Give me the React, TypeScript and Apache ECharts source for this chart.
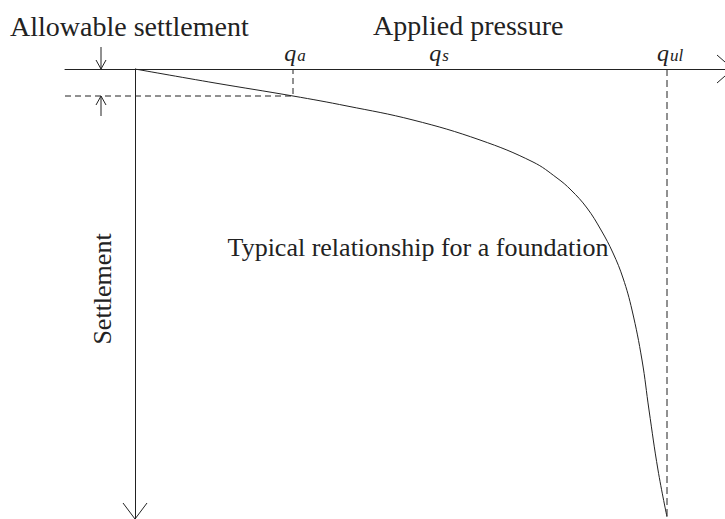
import React, { useEffect, useRef } from 'react';
import * as echarts from 'echarts';

// Applied pressure (horizontal, arbitrary units) and settlement (vertical, downwards)
const pressure = [0, 80, 158, 212, 278, 345, 398, 422, 436, 452, 466, 478, 488, 497, 507, 514, 523, 532];
const settlement = [0, 14, 27, 37, 51, 71, 93, 109, 121, 139, 161, 184, 209, 241, 291, 341, 401, 448];

const qa = 158;          // allowable pressure
const allowable = 27;    // allowable settlement
const qs = 304;          // label position of q_s
const qul = 532;         // ultimate pressure
const qulDepth = 448;

const xMin = -70;
const xMax = 590;
const yMax = 450;

const INK = '#222';
const SERIF = '"Liberation Serif", "Times New Roman", serif';

export default function App() {
  const ref = useRef<HTMLDivElement>(null);

  useEffect(() => {
    if (!ref.current) return;
    const chart = echarts.init(ref.current, undefined, { renderer: 'svg' });
    const curve = pressure.map((p, i) => [p, settlement[i]]);

    chart.setOption({
      animation: false,
      backgroundColor: '#fff',
      grid: { left: 65, top: 69, width: 660, height: 450, containLabel: false },
      xAxis: {
        type: 'value', min: xMin, max: xMax, position: 'top',
        axisLine: { show: true, onZero: true, lineStyle: { color: INK, width: 1 } },
        axisTick: { show: false }, axisLabel: { show: false }, splitLine: { show: false },
      },
      yAxis: {
        type: 'value', min: 0, max: yMax, inverse: true,
        axisLine: { show: true, onZero: true, lineStyle: { color: INK, width: 1 } },
        axisTick: { show: false }, axisLabel: { show: false }, splitLine: { show: false },
      },
      series: [
        {
          type: 'line', data: curve, smooth: 0.4, symbol: 'none',
          lineStyle: { color: INK, width: 1 }, z: 3,
        },
        {
          type: 'line', data: [[xMin, allowable], [qa, allowable], [qa, 0]], symbol: 'none',
          lineStyle: { color: INK, width: 1, type: [6, 4] },
        },
        {
          type: 'line', data: [[qul, 0], [qul, qulDepth]], symbol: 'none',
          lineStyle: { color: INK, width: 1, type: [7, 4] },
        },
      ],
    });

    const px = (x: number, y: number) => chart.convertToPixel({ gridIndex: 0 }, [x, y]) as number[];
    const o = px(0, 0);
    const xEnd = px(xMax, 0);
    const yEnd = px(0, yMax);
    const aPt = px(qa, allowable);
    const sPt = px(qs, 0);
    const uPt = px(qul, 0);
    const arrowX = o[0] - 34;

    const line = (points: number[][]) => ({
      type: 'polyline', shape: { points }, style: { stroke: INK, lineWidth: 1, fill: 'none' }, silent: true,
    });

    const qLabel = (sub: string, x: number) => ({
      type: 'text', x, y: 53,
      style: {
        text: `{q|q}{s|${sub}}`, align: 'center', verticalAlign: 'middle',
        rich: {
          q: { fontFamily: SERIF, fontStyle: 'italic', fontSize: 24, fill: INK, verticalAlign: 'bottom' },
          s: { fontFamily: SERIF, fontStyle: 'italic', fontSize: 17, fill: INK, verticalAlign: 'bottom', padding: [0, 0, 1, 1] },
        },
      },
    });

    chart.setOption({
      graphic: [
        // x-axis arrow head (open)
        line([[xEnd[0] - 8, xEnd[1] - 14], [xEnd[0] + 8, xEnd[1]], [xEnd[0] - 8, xEnd[1] + 14]]),
        // y-axis arrow head (open)
        line([[yEnd[0] - 12, yEnd[1] - 16], [yEnd[0], yEnd[1]], [yEnd[0] + 12, yEnd[1] - 16]]),
        // allowable settlement marker arrows
        line([[arrowX, o[1] - 22], [arrowX, o[1]]]),
        line([[arrowX - 5, o[1] - 9], [arrowX, o[1]], [arrowX + 5, o[1] - 9]]),
        line([[arrowX, aPt[1] + 20], [arrowX, aPt[1]]]),
        line([[arrowX - 5, aPt[1] + 9], [arrowX, aPt[1]], [arrowX + 5, aPt[1] + 9]]),
        {
          type: 'text', x: 10, y: 26,
          style: { text: 'Allowable settlement', font: `28px ${SERIF}`, fill: INK, align: 'left', verticalAlign: 'middle' },
        },
        {
          type: 'text', x: 373, y: 25,
          style: { text: 'Applied pressure', font: `28px ${SERIF}`, fill: INK, align: 'left', verticalAlign: 'middle' },
        },
        qLabel('a', aPt[0] + 2),
        qLabel('s', sPt[0]),
        qLabel('ul', uPt[0] + 3),
        {
          type: 'text', x: 418, y: 247,
          style: { text: 'Typical relationship for a foundation', font: `26px ${SERIF}`, fill: INK, align: 'center', verticalAlign: 'middle' },
        },
        {
          type: 'text', x: 102, y: 289, rotation: Math.PI / 2,
          style: { text: 'Settlement', font: `26px ${SERIF}`, fill: INK, align: 'center', verticalAlign: 'middle' },
        },
      ],
    });

    return () => chart.dispose();
  }, []);

  return <div ref={ref} style={{ position: 'fixed', left: 0, top: 0, width: 725, height: 519 }} />;
}
